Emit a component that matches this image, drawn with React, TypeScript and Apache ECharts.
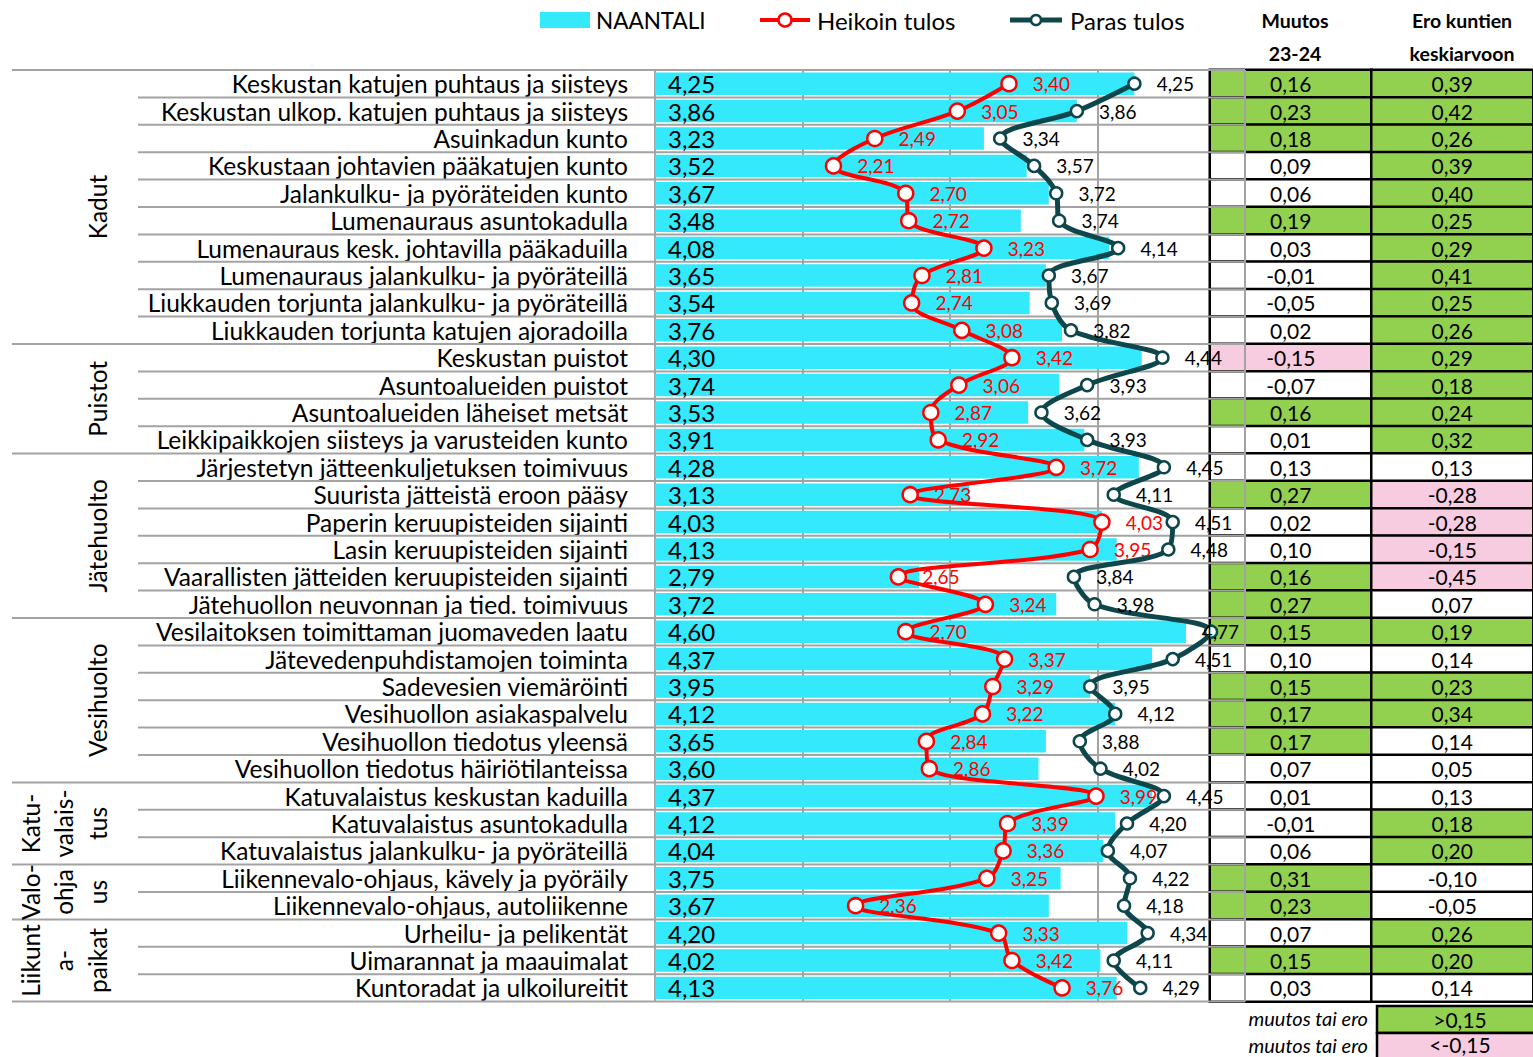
import React, { useEffect, useRef } from "react";
import * as echarts from "echarts";

const categories = [
  "Keskustan katujen puhtaus ja siisteys",
  "Keskustan ulkop. katujen puhtaus ja siisteys",
  "Asuinkadun kunto",
  "Keskustaan johtavien pääkatujen kunto",
  "Jalankulku- ja pyöräteiden kunto",
  "Lumenauraus asuntokadulla",
  "Lumenauraus kesk. johtavilla pääkaduilla",
  "Lumenauraus jalankulku- ja pyöräteillä",
  "Liukkauden torjunta jalankulku- ja pyöräteillä",
  "Liukkauden torjunta katujen ajoradoilla",
  "Keskustan puistot",
  "Asuntoalueiden puistot",
  "Asuntoalueiden läheiset metsät",
  "Leikkipaikkojen siisteys ja varusteiden kunto",
  "Järjestetyn jätteenkuljetuksen toimivuus",
  "Suurista jätteistä eroon pääsy",
  "Paperin keruupisteiden sijainti",
  "Lasin keruupisteiden sijainti",
  "Vaarallisten jätteiden keruupisteiden sijainti",
  "Jätehuollon neuvonnan ja tied. toimivuus",
  "Vesilaitoksen toimittaman juomaveden laatu",
  "Jätevedenpuhdistamojen toiminta",
  "Sadevesien viemäröinti",
  "Vesihuollon asiakaspalvelu",
  "Vesihuollon tiedotus yleensä",
  "Vesihuollon tiedotus häiriötilanteissa",
  "Katuvalaistus keskustan kaduilla",
  "Katuvalaistus asuntokadulla",
  "Katuvalaistus jalankulku- ja pyöräteillä",
  "Liikennevalo-ohjaus, kävely ja pyöräily",
  "Liikennevalo-ohjaus, autoliikenne",
  "Urheilu- ja pelikentät",
  "Uimarannat ja maauimalat",
  "Kuntoradat ja ulkoilureitit",
];

const groupNames = [
  "Kadut",
  "Puistot",
  "Jätehuolto",
  "Vesihuolto",
  "Katu-\nvalais-\ntus",
  "Valo-\nohja\nus",
  "Liikunt\na-\npaikat",
];
const groupSizes = [10, 4, 6, 6, 3, 2, 3];

const naantali = [
  4.25, 3.86, 3.23, 3.52, 3.67, 3.48, 4.08, 3.65, 3.54, 3.76,
  4.30, 3.74, 3.53, 3.91,
  4.28, 3.13, 4.03, 4.13, 2.79, 3.72,
  4.60, 4.37, 3.95, 4.12, 3.65, 3.60,
  4.37, 4.12, 4.04,
  3.75, 3.67,
  4.20, 4.02, 4.13,
];
const heikoin = [
  3.40, 3.05, 2.49, 2.21, 2.70, 2.72, 3.23, 2.81, 2.74, 3.08,
  3.42, 3.06, 2.87, 2.92,
  3.72, 2.73, 4.03, 3.95, 2.65, 3.24,
  2.70, 3.37, 3.29, 3.22, 2.84, 2.86,
  3.99, 3.39, 3.36,
  3.25, 2.36,
  3.33, 3.42, 3.76,
];
const paras = [
  4.25, 3.86, 3.34, 3.57, 3.72, 3.74, 4.14, 3.67, 3.69, 3.82,
  4.44, 3.93, 3.62, 3.93,
  4.45, 4.11, 4.51, 4.48, 3.84, 3.98,
  4.77, 4.51, 3.95, 4.12, 3.88, 4.02,
  4.45, 4.20, 4.07,
  4.22, 4.18,
  4.34, 4.11, 4.29,
];
const muutos = [
  0.16, 0.23, 0.18, 0.09, 0.06, 0.19, 0.03, -0.01, -0.05, 0.02,
  -0.15, -0.07, 0.16, 0.01,
  0.13, 0.27, 0.02, 0.10, 0.16, 0.27,
  0.15, 0.10, 0.15, 0.17, 0.17, 0.07,
  0.01, -0.01, 0.06,
  0.31, 0.23,
  0.07, 0.15, 0.03,
];
const ero = [
  0.39, 0.42, 0.26, 0.39, 0.40, 0.25, 0.29, 0.41, 0.25, 0.26,
  0.29, 0.18, 0.24, 0.32,
  0.13, -0.28, -0.28, -0.15, -0.45, 0.07,
  0.19, 0.14, 0.23, 0.34, 0.14, 0.05,
  0.13, 0.18, 0.20,
  -0.10, -0.05,
  0.26, 0.20, 0.14,
];
const seriesNames = ["NAANTALI", "Heikoin tulos", "Paras tulos"];
const tableColumns = ["Muutos", "Ero"];
const tableHeaders = [["Muutos", "23-24"], ["Ero kuntien", "keskiarvoon"]];
const threshold = 0.15;
const legendLabels = [">0,15", "<-0,15"];
const legendNote = "muutos tai ero";

const CYAN = "#33E9FB";
const RED = "#FF0000";
const DARK = "#0D474C";
const GREEN = "#92D050";
const PINK = "#F8CCE0";
const GRAY = "#A3A3A3";
const FONT = "Lato";

const fmt = (v: number) => v.toFixed(2).replace(".", ",");

export default function App() {
  const ref = useRef<HTMLDivElement>(null);
  useEffect(() => {
    if (!ref.current) return;
    const chart = echarts.init(ref.current, undefined, { renderer: "svg" });

    const starts: number[] = [];
    const ends: number[] = [];
    let acc = 0;
    groupSizes.forEach((s) => {
      starts.push(acc);
      ends.push(acc + s - 1);
      acc += s;
    });

    const gridTop = 70;
    const rowH = 27.4;
    const gridH = rowH * categories.length;
    const plotRight = 1245;

    const keepInside = (params: any) => {
      const r = params.labelRect;
      if (r && r.x + r.width > plotRight - 2) {
        return { dx: plotRight - 6 - (r.x + r.width) };
      }
      return {};
    };

    const option: any = {
      animation: false,
      textStyle: { fontFamily: FONT },
      grid: [
        { left: 655, top: gridTop, width: 590, height: gridH },
        { left: 1210, top: gridTop, width: 334, height: gridH },
      ],
      xAxis: [
        {
          type: "value",
          gridIndex: 0,
          min: 1,
          max: 5,
          interval: 1,
          startValue: 1,
          z: 1,
          axisLabel: { show: false },
          axisLine: { show: false },
          axisTick: { show: false },
          splitLine: { show: true, lineStyle: { color: GRAY, width: 2 } },
        },
        {
          type: "category",
          gridIndex: 1,
          data: tableColumns,
          show: false,
        },
      ],
      yAxis: [
        {
          type: "category",
          gridIndex: 0,
          data: categories,
          inverse: true,
          axisLine: { show: false },
          axisTick: { show: false },
          splitLine: { show: false },
          axisLabel: {
            interval: 0,
            color: "#000",
            fontSize: 24.5,
            fontFamily: FONT,
            margin: 27,
          },
        },
        {
          type: "category",
          gridIndex: 1,
          data: categories,
          inverse: true,
          show: false,
        },
      ],
      visualMap: {
        type: "piecewise",
        show: false,
        seriesIndex: 4,
        dimension: 2,
        pieces: [
          { gte: threshold, color: GREEN },
          { lte: -threshold, color: PINK },
          { gt: -threshold, lt: threshold, color: "#FFFFFF" },
        ],
      },
      series: [
        {
          name: seriesNames[0],
          type: "bar",
          xAxisIndex: 0,
          yAxisIndex: 0,
          data: naantali,
          barCategoryGap: "18%",
          itemStyle: { color: CYAN },
          z: 2,
          label: {
            show: true,
            position: "insideLeft",
            distance: 13,
            color: "#000",
            fontSize: 24,
            fontFamily: FONT,
            formatter: (p: any) => fmt(p.value),
          },
        },
        {
          name: seriesNames[1],
          type: "line",
          xAxisIndex: 0,
          yAxisIndex: 0,
          data: heikoin,
          smooth: 0.35,
          z: 4,
          lineStyle: { color: RED, width: 4 },
          symbol: "circle",
          symbolSize: 15,
          itemStyle: { color: "#FFFFFF", borderColor: RED, borderWidth: 2.5 },
          label: {
            show: true,
            position: "right",
            distance: 15,
            color: RED,
            fontSize: 19,
            fontFamily: FONT,
            formatter: (p: any) => fmt(p.value),
          },
        },
        {
          name: seriesNames[2],
          type: "line",
          xAxisIndex: 0,
          yAxisIndex: 0,
          data: paras,
          smooth: 0.35,
          z: 5,
          lineStyle: { color: DARK, width: 5 },
          symbol: "circle",
          symbolSize: 12,
          itemStyle: { color: "#FFFFFF", borderColor: DARK, borderWidth: 2.5 },
          labelLayout: keepInside,
          label: {
            show: true,
            position: "right",
            distance: 15,
            color: "#000",
            fontSize: 19,
            fontFamily: FONT,
            formatter: (p: any) => fmt(p.value),
          },
        },
        {
          type: "custom",
          xAxisIndex: 0,
          yAxisIndex: 0,
          z: 3,
          silent: true,
          data: categories.map((_, i) => [1, i, starts.includes(i) ? 1 : 0]),
          renderItem: (params: any, api: any) => {
            const i = api.value(1);
            const c = api.coord([1, i]);
            const h = api.size([0, 1])[1];
            const right = api.coord([5, i])[0];
            const top = c[1] - h / 2;
            const isStart = api.value(2) === 1;
            const children: any[] = [
              {
                type: "line",
                shape: { x1: isStart ? 12 : 138, y1: top, x2: right, y2: top },
                style: { stroke: GRAY, lineWidth: 2 },
              },
            ];
            if (i === categories.length - 1) {
              children.push({
                type: "line",
                shape: { x1: 12, y1: c[1] + h / 2, x2: right, y2: c[1] + h / 2 },
                style: { stroke: GRAY, lineWidth: 2 },
              });
            }
            return { type: "group", children };
          },
        },
        {
          type: "heatmap",
          xAxisIndex: 1,
          yAxisIndex: 1,
          z: 0,
          data: [
            ...muutos.map((v, i) => [0, i, v]),
            ...ero.map((v, i) => [1, i, v]),
          ],
          itemStyle: { borderColor: "#000", borderWidth: 2.5 },
          label: {
            show: true,
            color: "#000",
            fontSize: 21,
            fontFamily: FONT,
            formatter: (p: any) => fmt(p.value[2]),
          },
          emphasis: { disabled: true },
        },
        {
          type: "custom",
          xAxisIndex: 0,
          yAxisIndex: 0,
          z: 3,
          silent: true,
          data: groupNames.map((_, g) => [1, starts[g], ends[g]]),
          renderItem: (params: any, api: any) => {
            const h = api.size([0, 1])[1];
            const y1 = api.coord([1, api.value(1)])[1] - h / 2;
            const y2 = api.coord([1, api.value(2)])[1] + h / 2;
            return {
              type: "text",
              x: 114,
              y: (y1 + y2) / 2,
              rotation: Math.PI / 2,
              style: {
                text: groupNames[params.dataIndex],
                align: "center",
                verticalAlign: "bottom",
                fontSize: 24.5,
                lineHeight: 33.5,
                fontFamily: FONT,
                fill: "#000",
              },
            };
          },
        },
      ],
      graphic: [
        { type: "rect", shape: { x: 540, y: 12, width: 50, height: 16 }, style: { fill: CYAN } },
        { type: "text", x: 596, y: 20, style: { text: seriesNames[0], fontSize: 22.5, fontFamily: FONT, fill: "#000", verticalAlign: "middle" } },
        { type: "line", shape: { x1: 760, y1: 20, x2: 810, y2: 20 }, style: { stroke: RED, lineWidth: 4 } },
        { type: "circle", shape: { cx: 785, cy: 20, r: 6.5 }, style: { fill: "#fff", stroke: RED, lineWidth: 2.5 } },
        { type: "text", x: 817, y: 20, style: { text: seriesNames[1], fontSize: 24, fontFamily: FONT, fill: "#000", verticalAlign: "middle" } },
        { type: "line", shape: { x1: 1010, y1: 20, x2: 1062, y2: 20 }, style: { stroke: DARK, lineWidth: 5 } },
        { type: "circle", shape: { cx: 1036, cy: 20, r: 5 }, style: { fill: "#fff", stroke: DARK, lineWidth: 2.5 } },
        { type: "text", x: 1070, y: 20, style: { text: seriesNames[2], fontSize: 24, fontFamily: FONT, fill: "#000", verticalAlign: "middle" } },
        ...tableHeaders.flatMap((lines, k) =>
          lines.map((t, j) => ({
            type: "text",
            x: k === 0 ? 1295 : 1462,
            y: 20 + j * 33,
            style: { text: t, fontSize: 19.5, fontWeight: "bold", fontFamily: FONT, fill: "#000", align: "center", verticalAlign: "middle" },
          }))
        ),
        ...legendLabels.flatMap((t, k) => [
          {
            type: "text",
            x: 1368,
            y: 1018 + k * 27,
            style: { text: legendNote, fontSize: 20, fontStyle: "italic", fontFamily: FONT, fill: "#000", align: "right", verticalAlign: "middle" },
          },
          {
            type: "rect",
            shape: { x: 1377, y: 1006 + k * 27, width: 170, height: 27 },
            style: { fill: k === 0 ? GREEN : PINK, stroke: "#000", lineWidth: 2.5 },
          },
          {
            type: "text",
            x: 1460,
            y: 1019 + k * 25,
            style: { text: t, fontSize: 21, fontFamily: FONT, fill: "#000", align: "center", verticalAlign: "middle" },
          },
        ]),
      ],
    };

    chart.setOption(option);
    return () => chart.dispose();
  }, []);

  return (
    <div
      style={{ position: "absolute", left: 0, top: 0, width: 1533, height: 1057, overflow: "hidden", background: "#fff" }}
    >
      <div ref={ref} style={{ width: 1533, height: 1057 }} />
    </div>
  );
}
